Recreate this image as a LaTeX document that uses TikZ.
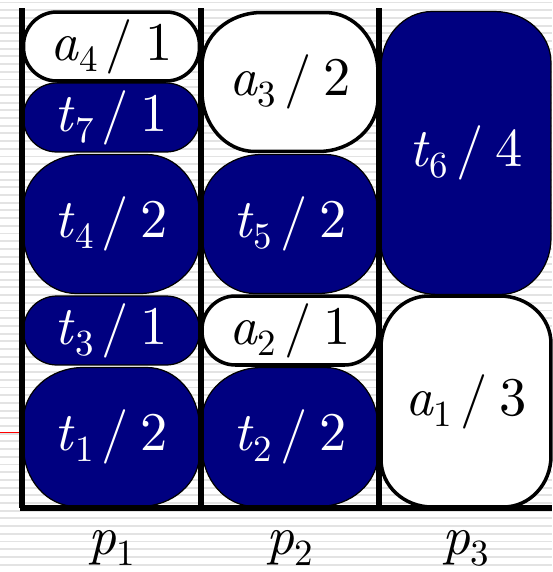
\documentclass[tikz,border=0pt]{standalone}
\usepackage{fontspec}
\newfontfamily\slotfont{lmroman10-regular.otf}[ItalicFont=lmroman10-italic.otf]
\usetikzlibrary{positioning}
\definecolor{navy}{RGB}{0,0,128}

\newcommand{\blk}[3]{\textit{#1}\raisebox{-0.2em}{\fontsize{21}{21}\selectfont #2}\hspace{0.15em}/\hspace{0.22em}#3}

\tikzset{
  corner/.code 2 args={\pgfsetcornersarced{\pgfpoint{#1}{#2}}},
  slot/.style={inner sep=0pt, minimum width=3.52cm, font=\slotfont\fontsize{31}{34}\selectfont},
  busy/.style={slot, draw=black, line width=0.7pt, fill=navy, text=white},
  free/.style={slot, draw=black, line width=2pt, fill=white, text=black},
  one/.style={minimum height=1.38cm, corner={19pt}{19pt}},
  two/.style={minimum height=2.78cm, corner={34pt}{30pt}},
  axis/.style={line width=3pt, black}
}

\begin{document}
\begin{tikzpicture}[x=0.02cm, y=-0.02cm]

\useasboundingbox (0,0) rectangle (552,572);

% background
\foreach \y in {2.5,10.2,...,572}
  \draw[gray!22, line width=1.1pt] (0,\y) -- (552,\y);
\draw[red, line width=0.6pt] (0,432.5) -- (22,432.5);

% processor p1
\node[busy, two] (t1) at (111.5,437) {\blk{t}{1}{2}};
\node[busy, one] (t3) at (111.5,330.5) {\blk{t}{3}{1}};
\node[busy, two] (t4) at (111.5,224) {\blk{t}{4}{2}};
\node[busy, one] (t7) at (111.5,117.5) {\blk{t}{7}{1}};
\node[free, one] (a4) at (111.5,46.5) {\blk{a}{4}{1}};

% processor p2
\node[busy, two] (t2) at (290,437) {\blk{t}{2}{2}};
\node[free, one] (a2) at (290,330.5) {\blk{a}{2}{1}};
\node[busy, two] (t5) at (290,224) {\blk{t}{5}{2}};
\node[free, two] (a3) at (290,82) {\blk{a}{3}{2}};

% processor p3
\node[free, minimum width=3.4cm, minimum height=4.22cm, corner={27pt}{29pt}] (a1) at (466,401.5) {\blk{a}{1}{3}};
\node[busy, minimum width=3.4cm, minimum height=5.66cm, corner={29pt}{32pt}] (t6) at (466,153) {\blk{t}{6}{4}};

% axes
\draw[axis] (22,8) -- (22,508);
\draw[axis] (201,8) -- (201,508);
\draw[axis] (379,8) -- (379,508);
\draw[black, line width=3.2pt] (20.3,508) -- (552,508);

\node[font=\slotfont\fontsize{31}{34}\selectfont] (p1) at (111.5,548) {\textit{p}\raisebox{-0.2em}{\fontsize{21}{21}\selectfont 1}};
\node[font=\slotfont\fontsize{31}{34}\selectfont] (p2) at (290,548) {\textit{p}\raisebox{-0.2em}{\fontsize{21}{21}\selectfont 2}};
\node[font=\slotfont\fontsize{31}{34}\selectfont] (p3) at (466,548) {\textit{p}\raisebox{-0.2em}{\fontsize{21}{21}\selectfont 3}};

\end{tikzpicture}
\end{document}
